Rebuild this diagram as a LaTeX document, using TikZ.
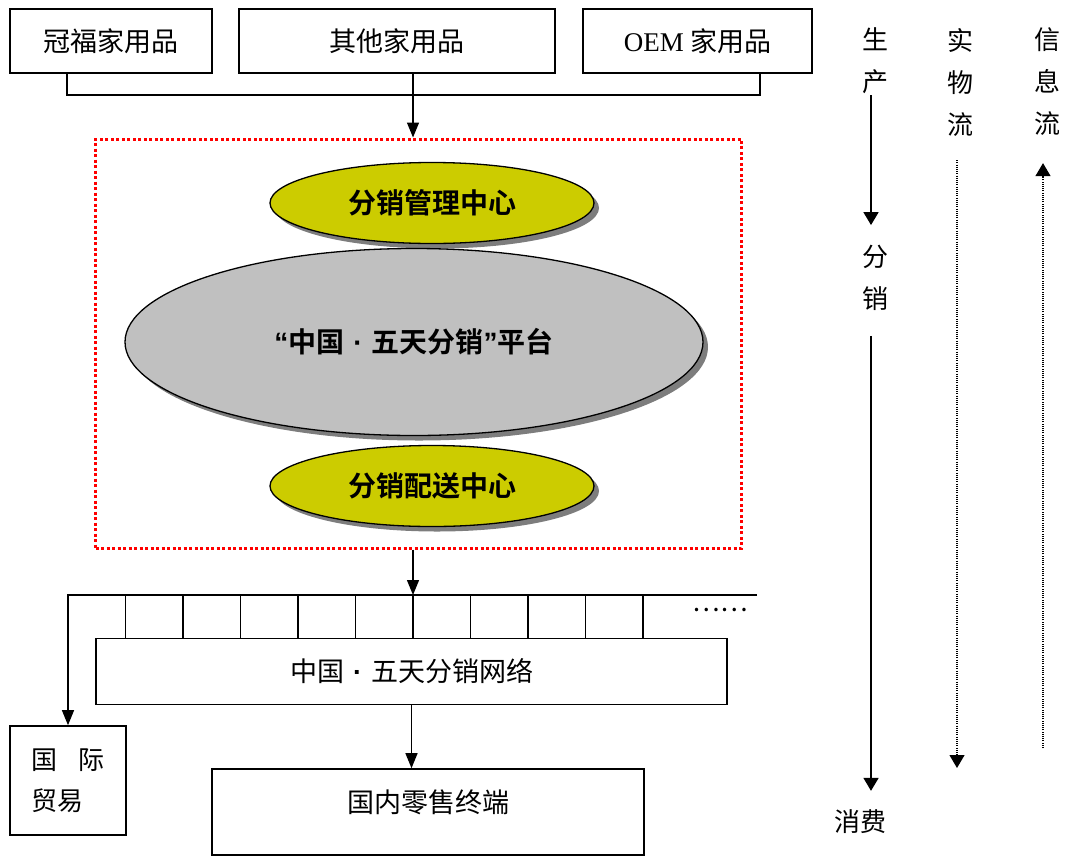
\documentclass[tikz,border=0pt]{standalone}
\usepackage{fontspec}
\setmainfont{Noto Sans CJK SC}[BoldFont={Noto Sans CJK SC Bold}]
\newfontfamily\timesfont{Liberation Serif}
\newfontfamily\latinfont{Liberation Sans}
\usetikzlibrary{shadows}
\usetikzlibrary{positioning}
\usetikzlibrary{arrows.meta,shapes.geometric}
\usetikzlibrary{calc}
\definecolor{yellowgreen}{RGB}{204,204,0}
\definecolor{platgray}{RGB}{192,192,192}
\definecolor{shadowgray}{RGB}{125,125,125}
\newcommand{\middot}{{\latinfont\bfseries\hspace{9pt}·\hspace{9pt}}}

\begin{document}
\begin{tikzpicture}
  [x=1pt,y=-1pt,
  >={Triangle[length=15pt,width=12pt]},
  box/.style={rectangle,draw=black,line width=1.6pt,inner sep=0pt,font=\fontsize{27}{41}\selectfont},
  centre/.style={ellipse,draw=black,line width=1.3pt,fill=yellowgreen,inner sep=0pt,minimum width=324pt,minimum height=81pt,font=\bfseries\fontsize{28}{30}\selectfont,drop shadow={shadow xshift=5pt,shadow yshift=-5pt,fill=shadowgray,opacity=1}},
  flow/.style={font=\fontsize{26}{42}\selectfont,align=center,inner sep=0pt},
  link/.style={line width=1.3pt},
  bigarrow/.style={line width=1.8pt,-{Triangle[length=13pt,width=15pt]}},
  dots/.style={line width=1.1pt,dash pattern=on 1pt off 1.2pt,-{Triangle[length=13pt,width=15pt]}}]
  \useasboundingbox (0,0) rectangle (1070,857);

  \node[box,minimum width=202pt,minimum height=64pt] (guanfu) at (111,41) {冠福家用品\hspace{22pt}};
  \node[box,minimum width=316pt,minimum height=64pt] (other) at (397,41) {其他家用品};
  \node[box,minimum width=229pt,minimum height=64pt] (oem) at (697.5,41) {{\timesfont OEM} 家用品\hspace{35pt}};

  \node[draw=red,line width=3pt,dash pattern=on 3pt off 2.5pt,minimum width=646pt,minimum height=409pt] (hub) at (418.5,343.5) {};

  \node[centre] (mgmt) at (432,203) {分销管理中心};
  \node[centre,fill=platgray,minimum width=578pt,minimum height=187pt] (platform) at (414,342) {{\latinfont\bfseries “}中国\middot 五天分销{\latinfont\bfseries ”}平台};
  \node[centre] (depot) at (432,486) {分销配送中心};

  \coordinate (spine) at (413,95);
  \coordinate (joinL) at (67,95);
  \coordinate (joinR) at (760,95);
  \draw [link] (guanfu.south -| joinL) -- (joinL) -- (joinR) -- (oem.south -| joinR);
  \draw [link,->] (other.south -| spine) -- (spine |- hub.north);

  \node[box,minimum width=631pt,minimum height=66pt] (net) at (411.5,671.5) {中国\middot 五天分销网络};
  \node[box,minimum width=116pt,minimum height=109pt,align=left,font=\fontsize{26}{41}\selectfont] (intl) at (68,780.5) {国\hspace{21pt}际\\贸易};
  \node[box,minimum width=432pt,minimum height=86pt] (retail) at (428,812) {};
  \node[flow,font=\fontsize{27}{30}\selectfont] (retailtext) at (428,802) {国内零售终端};

  \coordinate (busL) at (68,595);
  \coordinate (busR) at (757,595);
  \draw [link,->] (hub.south -| spine) -- (spine |- busL);
  \draw [link,->] (busR) -- (busL) -- (intl.north);
  \foreach \tx in {125.5,183,...,643}
    \draw [link] (\tx,0 |- busL) -- (\tx,0 |- net.north);
  \node[flow] (more) at (720,610) {……};
  \draw [link,->] (net.south) -- (net.south |- retail.north);

  \node[flow] (prod) at (875,61) {生\\产};
  \node[flow] (dist) at (875,278) {分\\销};
  \node[flow] (cons) at (860,822) {消费};
  \node[flow] (goods) at (960,82) {实\\物\\流};
  \node[flow] (info) at (1047,82) {信\\息\\流};
  \coordinate (goodsend) at (957,768);
  \coordinate (infostart) at (1043,748);

  \draw [bigarrow,shorten <=1pt,shorten >=20pt] ([xshift=-4pt]prod.south) -- ([xshift=-4pt]dist.north);
  \draw [bigarrow,shorten <=25pt,shorten >=19pt] ([xshift=-4pt]dist.south) -- ([xshift=11pt]cons.north);
  \draw [dots,shorten <=24pt] ([xshift=-3pt]goods.south) -- (goodsend);
  \draw [dots,shorten >=27pt] (infostart) -- ([xshift=-4pt]info.south);
  
  \end{tikzpicture}
\end{document}
